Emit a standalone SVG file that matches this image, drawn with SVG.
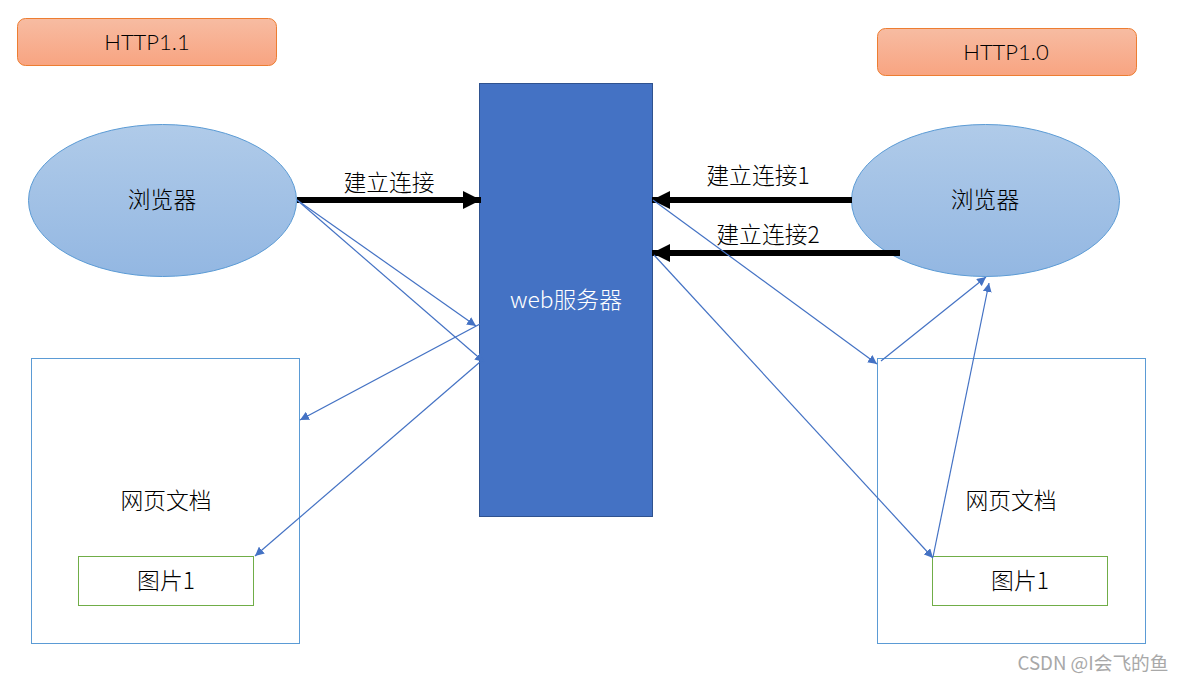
<svg xmlns="http://www.w3.org/2000/svg" width="1184" height="682" viewBox="0 0 1184 682">
<defs>
<linearGradient id="gO" x1="0" y1="0" x2="0" y2="1"><stop offset="0" stop-color="#f7bca2"/><stop offset="1" stop-color="#f8a481"/></linearGradient>
<linearGradient id="gB" x1="0" y1="0" x2="0" y2="1"><stop offset="0" stop-color="#b0cbe9"/><stop offset="1" stop-color="#93b7e2"/></linearGradient>
<marker id="big" markerUnits="userSpaceOnUse" markerWidth="20" markerHeight="20" refX="18" refY="10" orient="auto"><path d="M0 1L18 10L0 19Z" fill="#000"/></marker>
<marker id="small" markerUnits="userSpaceOnUse" markerWidth="10" markerHeight="9" refX="9" refY="4.500" orient="auto"><path d="M0 0L9 4.500L0 9Z" fill="#4472c4"/></marker>
</defs>
<style>
text{font-family:"Noto Sans CJK SC","Noto Sans",sans-serif;font-size:22.800px;font-weight:300;fill:#000;text-anchor:middle}
.latin{font-family:"Lato","Liberation Sans",sans-serif;font-size:22px}
.badge{fill:url(#gO);stroke:#ed7d31;stroke-width:1}
.oval{fill:url(#gB);stroke:#5b9bd5;stroke-width:1}
.doc{fill:#fff;stroke:#5b9bd5;stroke-width:1}
.img{fill:#fff;stroke:#70ad47;stroke-width:1}
.thick{stroke:#000;stroke-width:6;fill:none;marker-end:url(#big)}
.thin{stroke:#4472c4;stroke-width:1.200;fill:none;marker-end:url(#small)}
</style>
<rect width="1184" height="682" fill="#fff"/>
<g id="http11"><rect class="badge" x="17.500" y="18.500" width="259" height="47" rx="8"/><text class="latin" x="147" y="50">HTTP1.1</text></g>
<g id="http10"><rect class="badge" x="877.500" y="28.500" width="259" height="47" rx="8"/><text class="latin" x="1006" y="60">HTTP1.0</text></g>
<g id="browser-left"><ellipse class="oval" cx="162.500" cy="200.500" rx="134" ry="76"/><text x="162" y="208">浏览器</text></g>
<g id="browser-right"><ellipse class="oval" cx="985.500" cy="200.500" rx="134" ry="76"/><text x="985" y="208">浏览器</text></g>
<g id="server"><rect x="479.500" y="83.500" width="173" height="433" fill="#4472c4" stroke="#2f528f"/><text x="566" y="308" style="fill:#fff">web服务器</text></g>
<g id="doc-left"><rect class="doc" x="31.500" y="358.500" width="268" height="285"/><text x="166" y="509">网页文档</text></g>
<g id="doc-right"><rect class="doc" x="877.500" y="358.500" width="268" height="285"/><text x="1011" y="509">网页文档</text></g>
<g id="img-left"><rect class="img" x="78.500" y="556.500" width="175" height="49"/><text x="166" y="589">图片1</text></g>
<g id="img-right"><rect class="img" x="932.500" y="556.500" width="175" height="49"/><text x="1020" y="589">图片1</text></g>
<g id="connectors">
<line class="thick" x1="297" y1="200" x2="481" y2="200"/>
<line class="thick" x1="852" y1="200" x2="652" y2="200"/>
<line class="thick" x1="900" y1="253" x2="652" y2="253"/>
<line class="thin" x1="297" y1="200" x2="476" y2="326"/>
<line class="thin" x1="297" y1="200" x2="484" y2="362"/>
<line class="thin" x1="480" y1="324" x2="300" y2="420"/>
<line class="thin" x1="480" y1="362" x2="255" y2="556"/>
<line class="thin" x1="653" y1="200" x2="877" y2="364"/>
<line class="thin" x1="654" y1="255" x2="933" y2="558"/>
<line class="thin" x1="881" y1="361" x2="986" y2="277"/>
<line class="thin" x1="933" y1="557" x2="989" y2="283"/>
</g>
<text x="389" y="191">建立连接</text>
<text x="758" y="184">建立连接1</text>
<text x="768" y="243">建立连接2</text>
<text x="1093" y="670" style="font-size:18.700px;font-weight:400;fill:#a8a8a8">CSDN @I会飞的鱼</text>
</svg>
